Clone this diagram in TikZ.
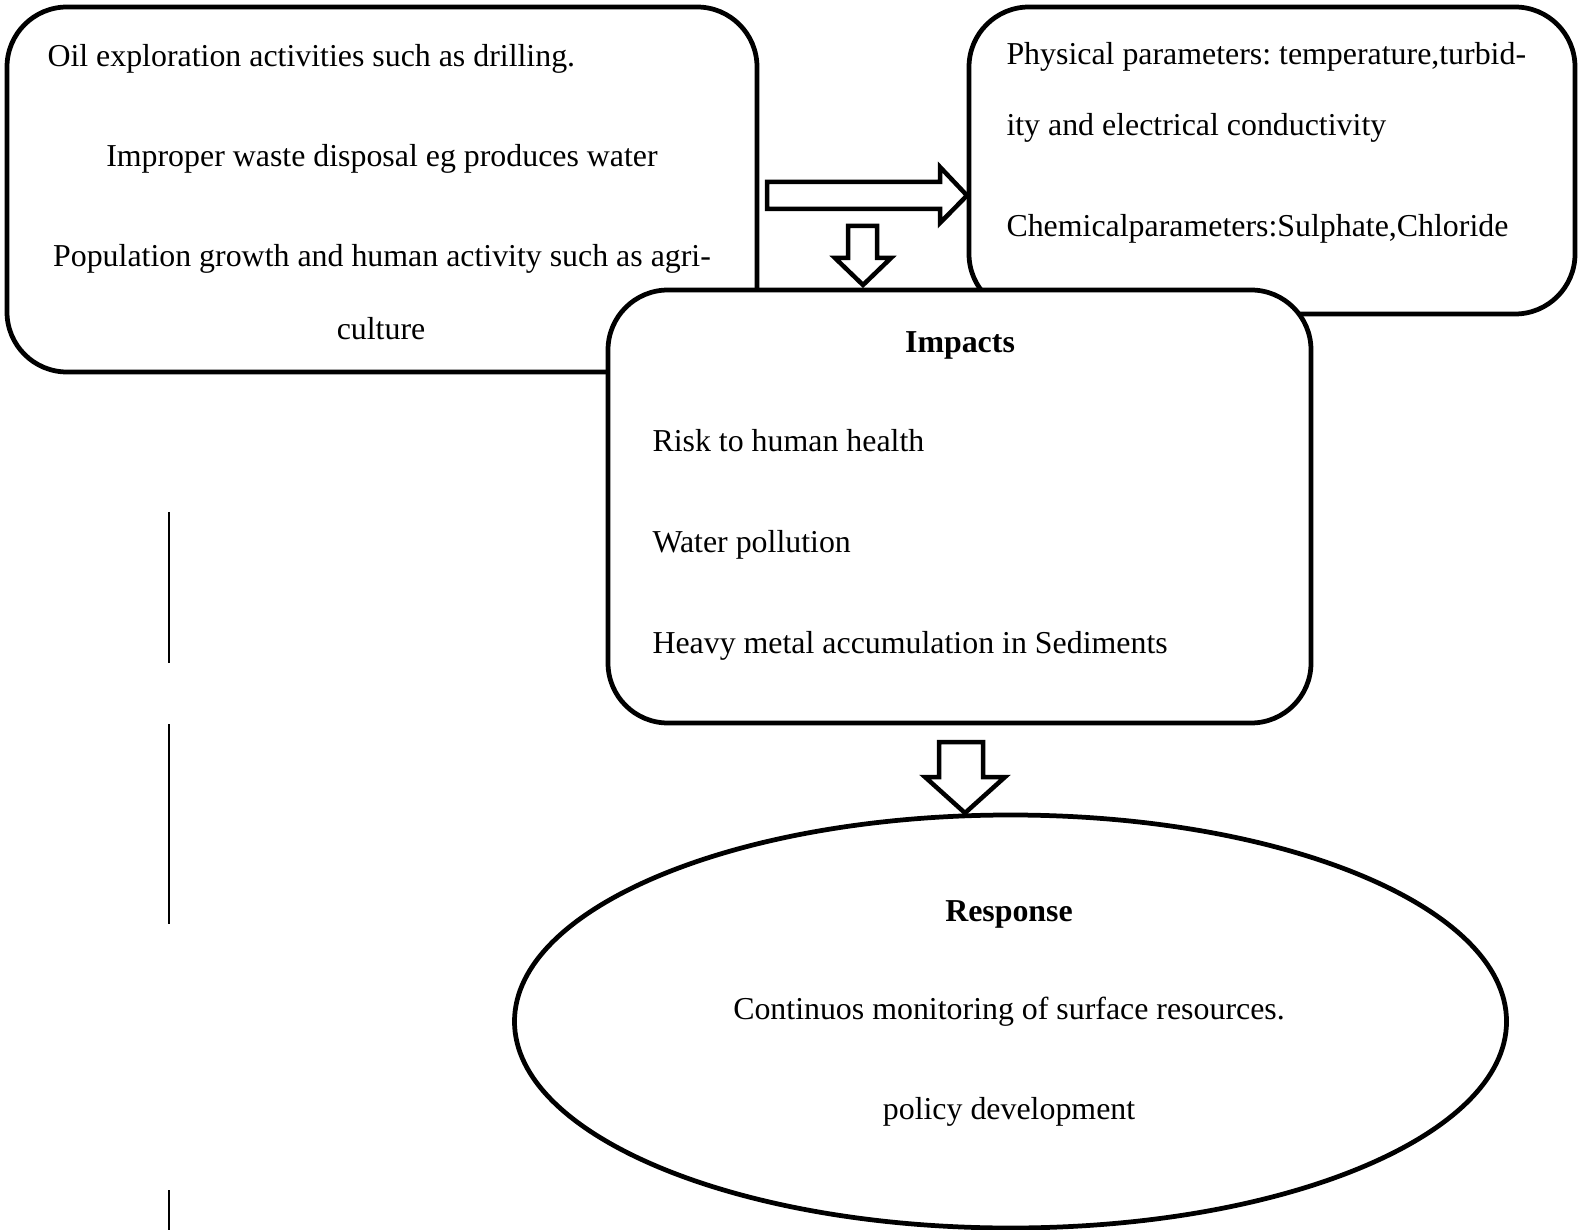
\documentclass[tikz,border=0pt]{standalone}
\usepackage{fontspec}
\setmainfont{Liberation Serif}
\usepackage{tikz}
\usetikzlibrary{shapes.geometric}
\frenchspacing

\tikzset{
  box/.style={draw, line width=1.9pt, rounded corners=24pt, inner sep=0pt},
  txt/.style={inner sep=0pt, font=\fontsize{12.75}{15}\selectfont},
  blockarrow/.style={draw, line width=1.8pt, fill=white, line join=miter},
}

\begin{document}
\begin{tikzpicture}[x=0.4pt,y=0.4pt,yscale=-1,xscale=1]
\useasboundingbox (0,0) rectangle (1578,1230);

% boxes
\node[box, minimum width=300pt, minimum height=146pt] (cause) at (382,189.5) {};
\node[box, minimum width=242.4pt, minimum height=122.8pt] (param) at (1272,160.5) {};
\node[box, fill=white, minimum width=281.2pt, minimum height=173.2pt] (impact) at (959.5,506.5) {};
\node[draw, ellipse, line width=1.9pt, inner sep=0pt, minimum width=396.8pt, minimum height=165.2pt] (response) at (1010.5,1021.5) {};

% block arrows
\draw[blockarrow] (767,182) -- (940,182) -- (940,167) -- (967,195.5) -- (940,223) -- (940,209) -- (767,209) -- cycle;
\draw[blockarrow] (848,226) -- (877,226) -- (877,258) -- (891,258) -- (863,285) -- (835,258) -- (848,258) -- cycle;
\draw[blockarrow] (939,742) -- (983,742) -- (983,777) -- (1005,777) -- (965,813) -- (925,777) -- (939,777) -- cycle;

% side lines
\draw[line width=0.8pt] (169,512) -- (169,663);
\draw[line width=0.8pt] (169,724) -- (169,924);
\draw[line width=0.8pt] (169,1190) -- (169,1230);

% Text Node
\node[txt, anchor=base west] (c1) at (47,67) {Oil exploration activities such as drilling.};
\node[txt, anchor=base] (c2) at (382,167) {Improper waste disposal eg produces water};
\node[txt, anchor=base] (c3) at (382,267) {Population growth and human activity such as agri-};
\node[txt, anchor=base] (c4) at (381,340) {culture};
% Text Node
\node[txt, anchor=base west] (p1) at (1006,65) {Physical parameters: temperature,turbid-};
\node[txt, anchor=base west] (p2) at (1006,136) {ity and electrical conductivity};
\node[txt, anchor=base west] (p3) at (1006,237) {Chemicalparameters:Sulphate,Chloride};
% Text Node
\node[txt, anchor=base, font=\fontsize{12.75}{15}\selectfont\bfseries] (i0) at (960,353) {Impacts};
\node[txt, anchor=base west] (i1) at (652,452) {Risk to human health};
\node[txt, anchor=base west] (i2) at (652,553) {Water pollution};
\node[txt, anchor=base west] (i3) at (652,653) {Heavy metal accumulation in Sediments};
% Text Node
\node[txt, anchor=base, font=\fontsize{12.75}{15}\selectfont\bfseries] (r0) at (1009,921) {Response};
\node[txt, anchor=base] (r1) at (1009,1019) {Continuos monitoring of surface resources.};
\node[txt, anchor=base] (r2) at (1009,1119) {policy development};
\end{tikzpicture}
\end{document}
